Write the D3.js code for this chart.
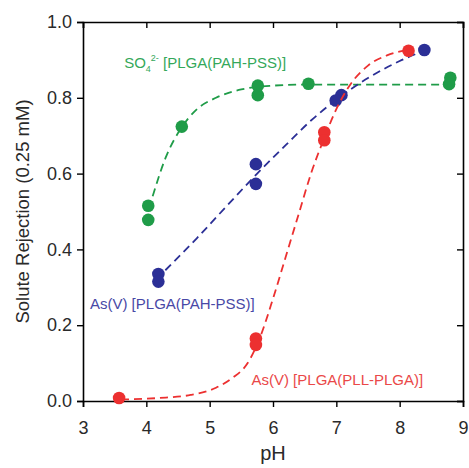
<!DOCTYPE html>
<html>
<head>
<meta charset="utf-8">
<script src="https://cdn.jsdelivr.net/npm/d3@7"></script>
<style>
  body { margin: 0; background: #fff; }
  text { font-family: "Liberation Sans", Arial, sans-serif; }
</style>
</head>
<body>
<svg width="469" height="468"></svg>
<script>
// measured points
var so4Pts   = [[4.03,0.515],[4.03,0.478],[4.56,0.724],[5.76,0.832],[5.76,0.807],[6.56,0.837],[8.8,0.853],[8.78,0.836]];
var asPahPts = [[4.19,0.335],[4.19,0.315],[5.73,0.625],[5.73,0.573],[7.08,0.807],[6.99,0.793],[8.39,0.926]];
var asPllPts = [[3.57,0.008],[5.73,0.165],[5.73,0.148],[6.81,0.709],[6.81,0.688],[8.14,0.924]];

// fitted curves
var so4Fit   = [[4.1,0.54],[4.3,0.64],[4.55,0.72],[4.8,0.77],[5.1,0.80],[5.5,0.822],[6.0,0.832],[6.5,0.835],[7.5,0.835],[8.75,0.835]];
var asPahFit = [[4.3,0.345],[4.8,0.43],[5.3,0.52],[5.75,0.6],[6.2,0.675],[6.6,0.74],[7.0,0.795],[7.5,0.852],[8.0,0.897],[8.35,0.922]];
var asPllFit = [[3.6,0.004],[4.2,0.008],[4.7,0.016],[5.1,0.035],[5.35,0.06],[5.6,0.10],[5.8,0.17],[6.0,0.27],[6.2,0.38],[6.4,0.49],[6.6,0.60],[6.8,0.69],[7.0,0.77],[7.2,0.83],[7.5,0.885],[7.8,0.912],[8.1,0.926]];

var xTicks = [3,4,5,6,7,8,9];
var yTicks = [0,0.2,0.4,0.6,0.8,1.0];

var series = [
  {pts: so4Pts,   fit: so4Fit,   color: "#1f9c48"},
  {pts: asPahPts, fit: asPahFit, color: "#2b2f96"},
  {pts: asPllPts, fit: asPllFit, color: "#ec3030"}
];

var svg = d3.select("svg");

var margins = {left:83, right:6, top:22, bottom:67};
var width = 469 - margins.left - margins.right;
var height = 468 - margins.top - margins.bottom;

var xScale = d3.scaleLinear().domain([3,9]).range([0,width]);
var yScale = d3.scaleLinear().domain([0,1]).range([height,0]);

var g = svg.append("g")
           .attr("transform","translate("+margins.left+","+margins.top+")");

var tickFmt = d3.format(".1f");

// bottom + left axes (ticks outside)
var xAxis = g.append("g")
             .attr("transform","translate(0,"+height+")")
             .call(d3.axisBottom(xScale).tickValues(xTicks).tickSize(6).tickPadding(14).tickFormat(d3.format("d")));
var yAxis = g.append("g")
             .call(d3.axisLeft(yScale).tickValues(yTicks).tickSize(6).tickPadding(5).tickFormat(tickFmt));
// top + right (ticks inside)
var xTop = g.append("g")
            .call(d3.axisTop(xScale).tickValues(xTicks).tickSize(-6).tickFormat(""));
var yRight = g.append("g")
              .attr("transform","translate("+width+",0)")
              .call(d3.axisRight(yScale).tickValues(yTicks).tickSize(-6).tickFormat(""));

[xAxis,yAxis,xTop,yRight].forEach(function(a)
{
  a.select(".domain").attr("stroke","#000").attr("stroke-width",1.6);
  a.selectAll(".tick line").attr("stroke","#000").attr("stroke-width",1.4);
  a.selectAll("text").attr("font-size",18).attr("fill","#2a2a2a")
   .style("font-family","'Liberation Sans', Arial, sans-serif");
});

var line = d3.line()
             .x(function(d) {return xScale(d[0]);})
             .y(function(d) {return yScale(d[1]);})
             .curve(d3.curveMonotoneX);

series.forEach(function(s)
{
  g.append("path")
   .datum(s.fit)
   .attr("d", line)
   .attr("fill","none")
   .attr("stroke", s.color)
   .attr("stroke-width", 1.8)
   .attr("stroke-dasharray","8,5");

  g.selectAll(null)
   .data(s.pts)
   .enter()
   .append("circle")
   .attr("cx", function(d) {return xScale(d[0]);})
   .attr("cy", function(d) {return yScale(d[1]);})
   .attr("r", 6.3)
   .attr("fill", s.color);
});

// series labels
var so4Label = g.append("text")
                .attr("x", xScale(3.65)).attr("y", yScale(0.878))
                .attr("font-size",15).attr("fill","#34a85a");
so4Label.append("tspan").text("SO");
so4Label.append("tspan").attr("font-size",9).attr("dy",4).text("4");
so4Label.append("tspan").attr("font-size",9).attr("dy",-11).text("2-");
so4Label.append("tspan").attr("dy",7).text(" [PLGA(PAH-PSS)]");

g.append("text")
 .attr("x", xScale(3.11)).attr("y", yScale(0.243))
 .attr("font-size",15).attr("fill","#4848a6")
 .text("As(V) [PLGA(PAH-PSS)]");

g.append("text")
 .attr("x", xScale(5.66)).attr("y", yScale(0.042))
 .attr("font-size",15).attr("fill","#ea4848")
 .text("As(V) [PLGA(PLL-PLGA)]");

// axis titles
svg.append("text")
   .attr("x", margins.left + xScale(6))
   .attr("y", 460)
   .attr("text-anchor","middle")
   .attr("font-size",20).attr("fill","#2a2a2a")
   .text("pH");

svg.append("text")
   .attr("transform","translate(29,"+(margins.top + height/2)+") rotate(-90)")
   .attr("text-anchor","middle")
   .attr("font-size",18.5).attr("fill","#2a2a2a")
   .text("Solute Rejection (0.25 mM)");
</script>
</body>
</html>
